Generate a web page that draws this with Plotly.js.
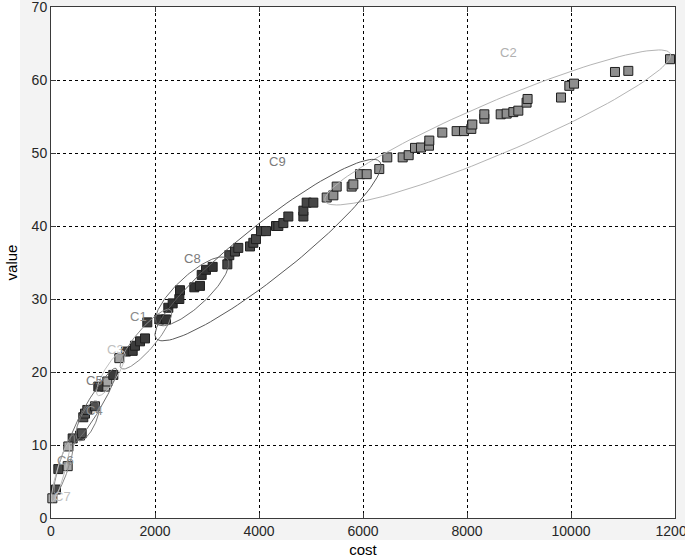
<!DOCTYPE html>
<html>
<head>
<meta charset="utf-8">
<script src="https://cdn.plot.ly/plotly-3.0.1.min.js"></script>
<style>
  body { margin:0; padding:0; background:#ffffff; }
  #myDiv { width:685px; height:560px; }
</style>
</head>
<body>
<div id="myDiv"></div>
<script>

// points: cost, value, cluster
let cost  = [26, 321, 333,
             96, 141, 417,
             558, 590, 621, 654, 698, 846,
             910, 1198,
             1038, 1083, 1314,
             1442, 1571, 1615, 1712, 1808, 1852,
             2083, 2212, 2256, 2340, 2468, 2481, 2756, 2865, 2898, 2981, 3109,
             3391, 3429, 3538, 3602, 3827, 3891, 3942, 4038, 4135, 4327, 4372, 4468, 4564, 4853, 4853, 4917, 5045,
             5302, 5430, 5494, 5782, 5814, 5942, 6071, 6313, 6467, 6763, 6878, 7000, 7115, 7269, 7275, 7525,
             7801, 7942, 8083, 8102, 8333, 8333, 8648, 8763, 8891, 8987, 9146, 9165, 9808, 9968, 10058,
             10846, 11102, 11904];
let value = [2.7, 7.1, 9.8,
             3.9, 6.7, 10.9,
             11.3, 11.6, 13.8, 14.3, 14.8, 15.3,
             18.0, 19.6,
             18.0, 18.7, 21.9,
             22.8, 22.9, 23.6, 24.2, 24.6, 26.8,
             27.2, 27.2, 28.8, 29.4, 30.0, 31.2, 31.6, 31.8, 33.3, 34.0, 34.4,
             34.75, 36.0, 36.5, 37.0, 37.2, 37.7, 38.2, 39.3, 39.3, 40.0, 40.0, 40.4, 41.3, 41.3, 42.1, 43.2, 43.2,
             43.9, 44.2, 45.4, 45.4, 45.7, 47.1, 47.1, 47.8, 49.4, 49.4, 49.7, 50.7, 50.75, 51.0, 51.7, 52.8,
             53.0, 53.0, 53.3, 53.9, 54.7, 55.3, 55.3, 55.4, 55.6, 55.8, 56.9, 57.4, 57.6, 59.2, 59.5,
             61.1, 61.25, 62.85];
let cluster = ['C7','C7','C7',
               'C6','C6','C6',
               'C4','C4','C4','C4','C4','C4',
               'C5','C5',
               'C3','C3','C3',
               'C1','C1','C1','C1','C1','C1',
               'C8','C8','C8','C8','C8','C8','C8','C8','C8','C8','C8',
               'C9','C9','C9','C9','C9','C9','C9','C9','C9','C9','C9','C9','C9','C9','C9','C9','C9',
               'C2','C2','C2','C2','C2','C2','C2','C2','C2','C2','C2','C2','C2','C2','C2','C2',
               'C2','C2','C2','C2','C2','C2','C2','C2','C2','C2','C2','C2','C2','C2','C2',
               'C2','C2','C2'];

// cluster ellipses: ends of the long axis (cost,value) and half width
let clusterNames  = ['C1','C2','C3','C4','C5','C6','C7','C8','C9'];
let ellStartCost  = [1350, 5270,  900,  530,  370,   80,   20, 2040, 2023];
let ellStartValue = [20.5, 43.4, 16.8, 10.6, 10.0,  3.3,  2.2, 26.6, 24.6];
let ellEndCost    = [2300, 11910, 1400, 880, 1250,  430,  345, 3390, 6323];
let ellEndValue   = [28.5, 63.6, 22.8, 16.0, 20.5, 11.4, 10.3, 35.5, 48.8];
let ellHalfWidth  = [10, 26, 7, 8, 7, 5, 4, 15.5, 26.5];

// label spots
let labelCost  = [1673, 8789, 1231,  846,  846,  288,  212, 2712, 4365];
let labelValue = [27.6, 63.8, 23.1, 14.7, 18.8,  7.9,  2.9, 35.6, 48.8];

let xTicks = [0, 2000, 4000, 6000, 8000, 10000, 12000];
let yTicks = [0, 10, 20, 30, 40, 50, 60, 70];

// look per cluster
let fillColor  = {C1:'#3c3c3c', C2:'#8e8e8e', C3:'#a4a4a4', C4:'#505050', C5:'#3a3a3a',
                  C6:'#474747', C7:'#aaaaaa', C8:'#333333', C9:'#464646'};
let lineColor  = {C1:'#8a8a8a', C2:'#b4b4b4', C3:'#c0c0c0', C4:'#7a7a7a', C5:'#6e6e6e',
                  C6:'#888888', C7:'#bdbdbd', C8:'#6a6a6a', C9:'#5a5a5a'};
let labelColor = {C1:'#8a8a8a', C2:'#b0b0b0', C3:'#c0c0c0', C4:'#8a8a8a', C5:'#7a7a7a',
                  C6:'#8a8a8a', C7:'#c0c0c0', C8:'#7a7a7a', C9:'#7a7a7a'};

let W=685, H=560;
let mL=51, mR=10, mT=7, mB=42;
let xMax=12000, yMax=70;
let plotW=W-mL-mR, plotH=H-mT-mB;

// ellipse outline in data units, width given in screen px
function ellipse_path(x1,y1,x2,y2,hw) {
  let sx=plotW/xMax, sy=plotH/yMax;
  let ax=(x2-x1)*sx/2, ay=(y2-y1)*sy/2;
  let cx=(x1+x2)*sx/2, cy=(y1+y2)*sy/2;
  let a=Math.sqrt(ax*ax+ay*ay);
  let nx=-ay/a, ny=ax/a;
  let xs=[], ys=[];
  for(let i=0;i<=120;i++) {
    let t=2*Math.PI*i/120;
    let px=cx+Math.cos(t)*ax+Math.sin(t)*hw*nx;
    let py=cy+Math.cos(t)*ay+Math.sin(t)*hw*ny;
    xs.push(px/sx); ys.push(py/sy);
  }
  return {x:xs, y:ys};
}

let data=[];

// points, one trace per cluster
clusterNames.forEach(function(c) {
  let px=[], py=[];
  for(let i=0;i<cost.length;i++) {
    if(cluster[i]==c) { px.push(cost[i]); py.push(value[i]); }
  }
  data.push({ x:px, y:py, type:'scatter', mode:'markers', showlegend:false,
              hoverinfo:'x+y', cliponaxis:false,
              marker:{ symbol:'square', size:9, color:fillColor[c],
                       line:{ color:'#1e1e1e', width:1 } } });
});

// ellipses on top
clusterNames.forEach(function(c,i) {
  let e=ellipse_path(ellStartCost[i],ellStartValue[i],ellEndCost[i],ellEndValue[i],ellHalfWidth[i]);
  data.push({ x:e.x, y:e.y, type:'scatter', mode:'lines', showlegend:false,
              hoverinfo:'skip', line:{ color:lineColor[c], width:1 } });
});

let annotations=clusterNames.map(function(c,i) {
  return { x:labelCost[i], y:labelValue[i], xref:'x', yref:'y', text:c,
           showarrow:false, font:{ family:'Liberation Sans, Arial, sans-serif', size:13, color:labelColor[c] } };
});

let axisCommon = {
    showgrid: true,
    gridcolor: '#000000',
    gridwidth: 1,
    griddash: '3px,3px',
    zeroline: false,
    showline: true,
    linecolor: '#3a3a3a',
    linewidth: 1,
    mirror: 'ticks',
    ticks: 'inside',
    ticklen: 5,
    tickcolor: '#3a3a3a',
    ticklabeloverflow: 'allow',
    tickfont: { family:'Liberation Sans, Arial, sans-serif', size:14, color:'#262626' }
};

// grey figure face, white strips where the axis titles sit
let layout = {
  width: W,
  height: H,
  margin: { l:mL, r:mR, t:mT, b:mB },
  paper_bgcolor: '#f3f3f3',
  plot_bgcolor: '#ffffff',
  font: { family:'Liberation Sans, Arial, sans-serif' },
  xaxis: Object.assign({}, axisCommon, {
    range: [0, xMax],
    tickvals: xTicks,
    ticktext: xTicks.map(String),
    title: { text:'cost', font:{ size:15, color:'#000000' }, standoff: 6 }
  }),
  yaxis: Object.assign({}, axisCommon, {
    range: [0, yMax],
    tickvals: yTicks,
    ticktext: yTicks.map(String),
    title: { text:'value', font:{ size:15, color:'#000000' }, standoff: 10 }
  }),
  shapes: [
    { type:'rect', xref:'paper', yref:'paper', layer:'below',
      x0:-mL/plotW, x1:(20-mL)/plotW, y0:-mB/plotH, y1:(H-mB)/plotH,
      fillcolor:'#ffffff', line:{ width:0 } },
    { type:'rect', xref:'paper', yref:'paper', layer:'below',
      x0:-mL/plotW, x1:(W-mL)/plotW, y0:-mB/plotH, y1:-(540-(H-mB))/plotH,
      fillcolor:'#ffffff', line:{ width:0 } }
  ],
  annotations: annotations
};

let config = { displayModeBar:false, staticPlot:true };

Plotly.newPlot('myDiv', data, layout, config);

</script>
</body>
</html>
